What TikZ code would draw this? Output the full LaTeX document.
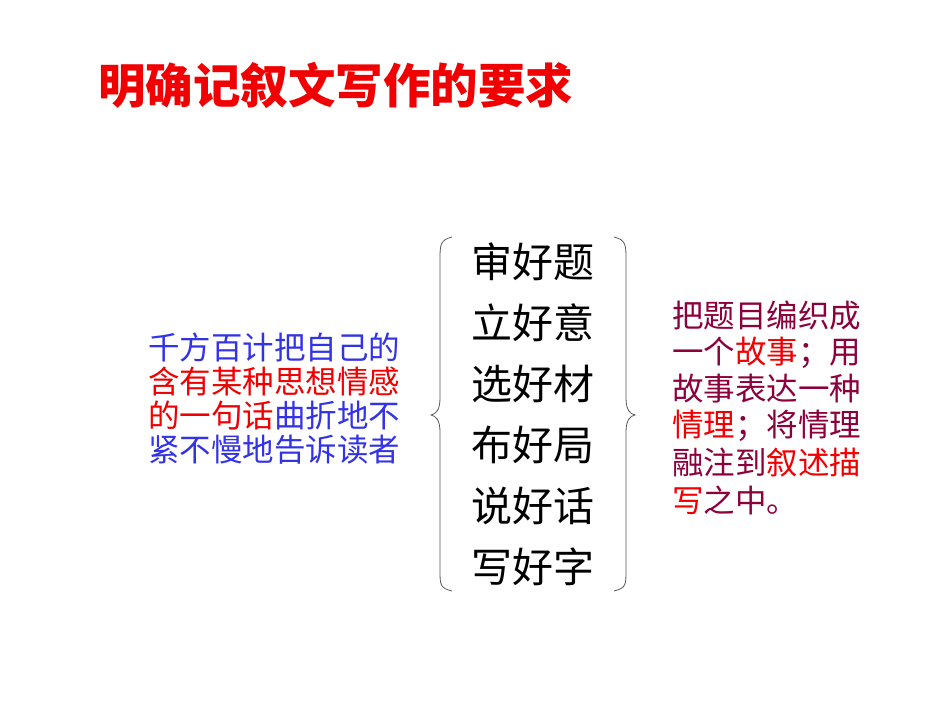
\documentclass[tikz,border=0pt]{standalone}
\usepackage{fontspec}
\newfontfamily\cjk{Noto Sans CJK SC}
\definecolor{myblue}{RGB}{50,50,230}
\definecolor{myred}{RGB}{240,0,0}
\definecolor{maroon}{RGB}{140,0,60}
\tikzset{txt/.style={inner sep=0pt,anchor=west,font=\cjk\fontsize{31.5}{31.5}\selectfont},
 mid/.style={inner sep=0pt,font=\cjk\fontsize{41}{41}\selectfont},
 br/.style={draw=gray!70!black,line width=0.8pt}}
\begin{document}
\begin{tikzpicture}[x=1pt,y=-1pt]
\useasboundingbox (0,0) rectangle (950,713);
\node[inner sep=0pt,anchor=west,text=myred,font=\cjk\bfseries\fontsize{47.5}{47.5}\selectfont] (title) at (98,85) {明确记叙文写作的要求};
\foreach \t [count=\i] in {审好题,立好意,选好材,布好局,说好话,写好字}
  \node[mid] (m\i) at (533,201+61*\i) {\t};
\node[txt,text=myblue] (l1) at (148,347) {千方百计把自己的};
\node[txt,text=myred] (l2) at (148,381) {含有某种思想情感};
\node[txt] (l3) at (148,416) {\textcolor{myred}{的一句话}\textcolor{myblue}{曲折地不}};
\node[txt,text=myblue] (l4) at (148,450) {紧不慢地告诉读者};
\node[txt,text=maroon] (r1) at (672,316) {把题目编织成};
\node[txt,text=maroon] (r2) at (672,353) {一个\textcolor{myred}{故事}；用};
\node[txt,text=maroon] (r3) at (672,389) {故事表达一种};
\node[txt,text=maroon] (r4) at (672,426) {\textcolor{myred}{情理}；将情理};
\node[txt,text=maroon] (r5) at (672,463) {融注到\textcolor{myred}{叙述描}};
\node[txt,text=maroon] (r6) at (672,500) {\textcolor{myred}{写}之中。};
\draw[br] (452,237) .. controls (440,240) and (440,245) .. (440,260) -- (440,398) .. controls (440,410) and (436,414) .. (431,415)
  .. controls (436,416) and (440,420) .. (440,432) -- (440,570) .. controls (440,585) and (440,588) .. (452,591);
\draw[br] (614,237) .. controls (626,240) and (626,245) .. (626,260) -- (626,398) .. controls (626,410) and (630,414) .. (635,415)
  .. controls (630,416) and (626,420) .. (626,432) -- (626,570) .. controls (626,585) and (626,588) .. (614,591);
\end{tikzpicture}
\end{document}
